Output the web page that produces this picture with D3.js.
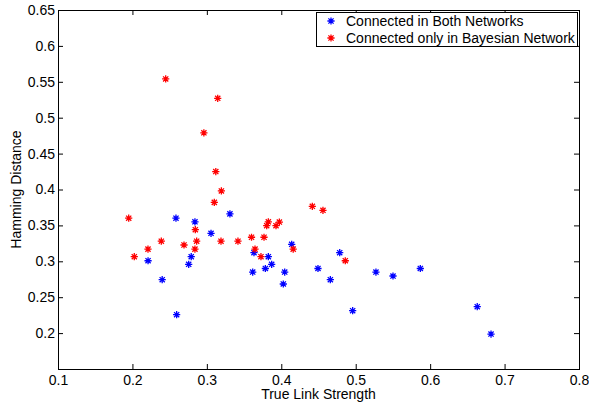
<!DOCTYPE html>
<html><head><meta charset="utf-8">
<script src="https://cdn.jsdelivr.net/npm/d3@7"></script>
<style>body{margin:0;background:#fff}svg{display:block}text{font-family:"Liberation Sans",Arial,sans-serif;fill:#000}</style>
</head><body>
<script>
const seriesNames = ["Connected in Both Networks", "Connected only in Bayesian Network"];
const bothX = [0.221,0.240,0.2585,0.2594,0.2756,0.279,0.284,0.3056,0.331,0.3616,0.3633,0.3786,0.3826,0.3871,0.4027,0.4046,0.414,0.4493,0.4659,0.4785,0.4959,0.5272,0.5501,0.5868,0.6633,0.6818];
const bothY = [0.3008,0.2744,0.360,0.2256,0.2958,0.3064,0.355,0.339,0.366,0.285,0.312,0.290,0.3064,0.2958,0.2684,0.285,0.3237,0.290,0.2744,0.312,0.2312,0.285,0.2795,0.290,0.2368,0.1987];
const bayesX = [0.195,0.2025,0.2209,0.2388,0.2447,0.2693,0.284,0.2845,0.2863,0.296,0.310,0.312,0.3146,0.3195,0.319,0.3418,0.360,0.3647,0.3727,0.3768,0.3804,0.3826,0.3929,0.3974,0.416,0.4417,0.456,0.486];
const bayesY = [0.360,0.3064,0.317,0.328,0.554,0.3227,0.317,0.344,0.328,0.479,0.382,0.425,0.527,0.398,0.328,0.328,0.3335,0.317,0.3064,0.3335,0.3496,0.355,0.3496,0.3547,0.317,0.3766,0.371,0.3008];
const xTicks = [0.1,0.2,0.3,0.4,0.5,0.6,0.7,0.8];
const yTicks = [0.2,0.25,0.3,0.35,0.4,0.45,0.5,0.55,0.6,0.65];
const xLabel = "True Link Strength", yLabel = "Hamming Distance";

const W = 589, H = 402;
const L = 58, R = 579, T = 10, B = 369;
const svg = d3.select("body").append("svg").attr("width", W).attr("height", H);
const x = d3.scaleLinear().domain([0.1, 0.8]).range([L, R]);
const y = d3.scaleLinear().domain([0.15, 0.65]).range([B, T]);
const tl = 5;
const fmt = d => String(+d.toFixed(2));
const FS = "14px";

// axes
const gB = svg.append("g").attr("transform", `translate(0,${B})`)
  .call(d3.axisBottom(x).tickValues(xTicks).tickSizeInner(-tl).tickSizeOuter(0).tickPadding(6).tickFormat(fmt));
const gT = svg.append("g").attr("transform", `translate(0,${T})`)
  .call(d3.axisTop(x).tickValues(xTicks).tickSizeInner(-tl).tickSizeOuter(0).tickFormat(""));
const gL = svg.append("g").attr("transform", `translate(${L},0)`)
  .call(d3.axisLeft(y).tickValues(yTicks).tickSizeInner(-tl).tickSizeOuter(0).tickPadding(3).tickFormat(fmt));
const gR = svg.append("g").attr("transform", `translate(${R},0)`)
  .call(d3.axisRight(y).tickValues(yTicks).tickSizeInner(-tl).tickSizeOuter(0).tickFormat(""));
[gB,gT,gL,gR].forEach(g => {
  g.selectAll("path.domain").attr("stroke", "#000").attr("stroke-width", 1);
  g.selectAll(".tick line").attr("stroke", "#000");
  g.selectAll(".tick text").style("font-size", FS).style("font-family", '"Liberation Sans",Arial,sans-serif').attr("fill", "#000");
});
// full frame
svg.append("rect").attr("x", L).attr("y", T).attr("width", R - L).attr("height", B - T)
  .attr("fill", "none").attr("stroke", "#000").attr("stroke-width", 1).attr("shape-rendering", "crispEdges");

svg.append("text").attr("x", (L + R) / 2).attr("y", 399).attr("text-anchor", "middle")
  .style("font-size", FS).text(xLabel);
svg.append("text").attr("transform", `translate(21,${(T + B) / 2}) rotate(-90)`).attr("text-anchor", "middle")
  .style("font-size", FS).text(yLabel);

// asterisk marker
function star(g, cx, cy, color) {
  const r = 3.6, d = r * 0.72;
  const p = `M${cx - r},${cy}L${cx + r},${cy}M${cx},${cy - r}L${cx},${cy + r}M${cx - d},${cy - d}L${cx + d},${cy + d}M${cx - d},${cy + d}L${cx + d},${cy - d}`;
  g.append("path").attr("d", p).attr("stroke", color).attr("stroke-width", 1.3).attr("fill", "none");
}
const pts = svg.append("g");
bothX.forEach((v, i) => star(pts, x(v), y(bothY[i]), "#0000ff"));
bayesX.forEach((v, i) => star(pts, x(v), y(bayesY[i]), "#ff0000"));

// legend
const lg = svg.append("g");
lg.append("rect").attr("x", 316.5).attr("y", 12.5).attr("width", 261).attr("height", 34)
  .attr("fill", "#fff").attr("stroke", "#000").attr("stroke-width", 1);
const colors = ["#0000ff", "#ff0000"];
seriesNames.forEach((n, i) => {
  const cy = 21 + i * 17;
  star(lg, 331, cy, colors[i]);
  lg.append("text").attr("x", 346).attr("y", cy + 5).style("font-size", FS).text(n);
});
</script>
</body></html>
